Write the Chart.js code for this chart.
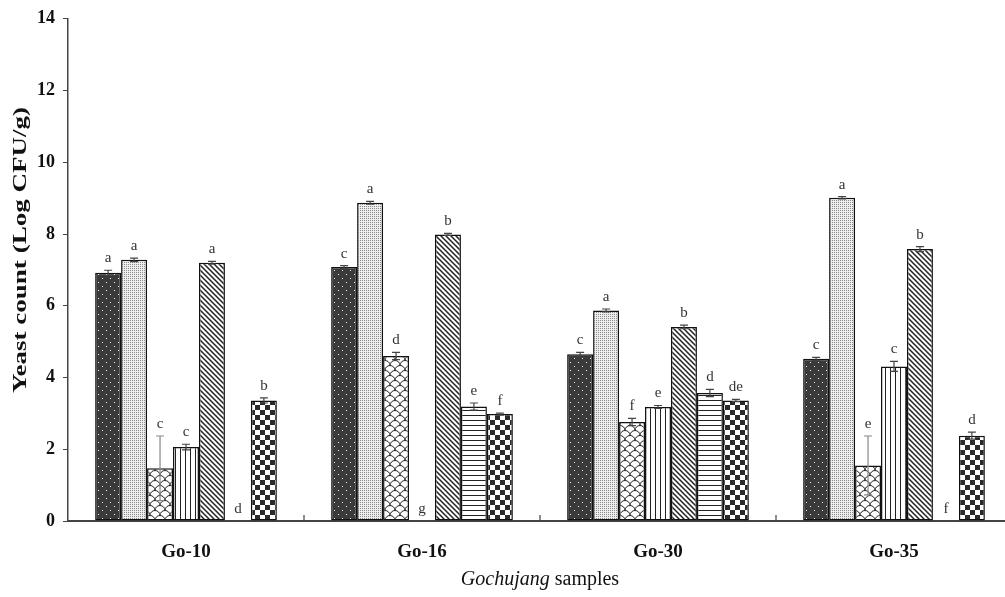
<!DOCTYPE html>
<html>
<head>
<meta charset="utf-8">
<script src="https://cdn.jsdelivr.net/npm/chart.js@4"></script>
<style>
  html, body { margin: 0; padding: 0; background: #fff; overflow: hidden; }
  #wrap { width: 1012px; height: 597px; position: relative; }
</style>
</head>
<body>
<div id="wrap"><canvas id="yeastChart"></canvas></div>
<script>
// sample groups on the x axis
const samples = ['Go-10', 'Go-16', 'Go-30', 'Go-35'];

// yeast counts (Log CFU/g), one array per bar pattern
const s1 = [6.92, 7.08, 4.65, 4.52];
const s2 = [7.28, 8.87, 5.87, 9.01];
const s3 = [1.47, 4.60, 2.76, 1.55];
const s4 = [2.06, 0, 3.18, 4.31];
const s5 = [7.20, 7.99, 5.41, 7.58];
const s6 = [0, 3.19, 3.57, 0];
const s7 = [3.36, 2.98, 3.36, 2.38];

// standard deviations
const e1 = [0.07, 0.04, 0.05, 0.04];
const e2 = [0.05, 0.04, 0.04, 0.03];
const e3 = [0.90, 0.10, 0.10, 0.82];
const e4 = [0.08, 0, 0.04, 0.14];
const e5 = [0.04, 0.03, 0.05, 0.07];
const e6 = [0, 0.10, 0.10, 0];
const e7 = [0.07, 0.03, 0.03, 0.10];

// significance letters
const l1 = ['a', 'c', 'c', 'c'];
const l2 = ['a', 'a', 'a', 'a'];
const l3 = ['c', 'd', 'f', 'e'];
const l4 = ['c', 'g', 'e', 'c'];
const l5 = ['a', 'b', 'b', 'b'];
const l6 = ['d', 'e', 'd', 'f'];
const l7 = ['b', 'f', 'de', 'd'];

const yTicks = [0, 2, 4, 6, 8, 10, 12, 14];

const values = [s1, s2, s3, s4, s5, s6, s7];
const errors = [e1, e2, e3, e4, e5, e6, e7];
const letters = [l1, l2, l3, l4, l5, l6, l7];

function makePattern(w, h, draw) {
  const c = document.createElement('canvas');
  c.width = w; c.height = h;
  const g = c.getContext('2d');
  draw(g, w, h);
  return g.createPattern(c, 'repeat');
}

const patterns = [
  // dark with white dots
  makePattern(8, 8, (g) => {
    g.fillStyle = '#3a3a3a'; g.fillRect(0, 0, 8, 8);
    g.fillStyle = '#f0f0f0';
    g.fillRect(2, 2, 1, 1); g.fillRect(6, 6, 1, 1);
  }),
  // fine stipple
  makePattern(2, 2, (g) => {
    g.fillStyle = '#eeeeee'; g.fillRect(0, 0, 2, 2);
    g.fillStyle = '#8a8a8a'; g.fillRect(0, 0, 1, 1);
  }),
  // fish scales
  makePattern(10, 10, (g) => {
    g.fillStyle = '#fff'; g.fillRect(0, 0, 10, 10);
    g.strokeStyle = '#222'; g.lineWidth = 1;
    g.beginPath(); g.arc(5, 5.5, 5, Math.PI, 2 * Math.PI); g.stroke();
    g.beginPath(); g.arc(0, 10.5, 5, Math.PI * 1.5, 2 * Math.PI); g.stroke();
    g.beginPath(); g.arc(10, 10.5, 5, Math.PI, Math.PI * 1.5); g.stroke();
  }),
  // vertical lines
  makePattern(5, 1, (g) => {
    g.fillStyle = '#fff'; g.fillRect(0, 0, 5, 1);
    g.fillStyle = '#222'; g.fillRect(0, 0, 1, 1);
  }),
  // diagonal lines
  makePattern(5, 5, (g) => {
    g.fillStyle = '#fff'; g.fillRect(0, 0, 5, 5);
    g.strokeStyle = '#222'; g.lineWidth = 1.5;
    g.beginPath();
    g.moveTo(-1, -1); g.lineTo(6, 6);
    g.moveTo(-1, 4); g.lineTo(1, 6);
    g.moveTo(4, -1); g.lineTo(6, 1);
    g.stroke();
  }),
  // horizontal lines
  makePattern(1, 5, (g) => {
    g.fillStyle = '#fff'; g.fillRect(0, 0, 1, 5);
    g.fillStyle = '#222'; g.fillRect(0, 0, 1, 1);
  }),
  // checkerboard
  makePattern(10, 10, (g) => {
    g.fillStyle = '#fff'; g.fillRect(0, 0, 10, 10);
    g.fillStyle = '#2a2a2a';
    g.fillRect(0, 0, 5, 5); g.fillRect(5, 5, 5, 5);
  })
];

const serif = "'Liberation Serif', 'Times New Roman', serif";

const extras = {
  id: 'extras',
  afterDatasetsDraw(chart) {
    const ctx = chart.ctx;
    const y = chart.scales.y;
    const x = chart.scales.x;
    ctx.save();
    // error bars and letters
    values.forEach((series, i) => {
      const meta = chart.getDatasetMeta(i);
      meta.data.forEach((bar, j) => {
        const v = series[j], e = errors[i][j];
        const top = y.getPixelForValue(v + e);
        if (e > 0) {
          const bot = y.getPixelForValue(Math.max(v - e, 0));
          ctx.strokeStyle = e > 0.5 ? '#888' : '#444';
          ctx.lineWidth = 1.2;
          ctx.beginPath();
          ctx.moveTo(bar.x, top); ctx.lineTo(bar.x, bot);
          ctx.moveTo(bar.x - 4, top); ctx.lineTo(bar.x + 4, top);
          ctx.moveTo(bar.x - 4, bot); ctx.lineTo(bar.x + 4, bot);
          ctx.stroke();
        }
        ctx.fillStyle = '#333';
        ctx.font = '15px ' + serif;
        ctx.textAlign = 'center';
        ctx.textBaseline = 'alphabetic';
        ctx.fillText(letters[i][j], bar.x, top - 8);
      });
    });
    // small category boundary ticks on the x axis
    ctx.strokeStyle = '#444';
    ctx.lineWidth = 1.2;
    for (let k = 0; k < samples.length - 1; k++) {
      const bx = (x.getPixelForValue(k) + x.getPixelForValue(k + 1)) / 2;
      ctx.beginPath();
      ctx.moveTo(bx, y.bottom); ctx.lineTo(bx, y.bottom - 6);
      ctx.stroke();
    }
    ctx.restore();
  },
  afterDraw(chart) {
    const ctx = chart.ctx;
    const area = chart.chartArea;
    ctx.save();
    ctx.fillStyle = '#111';
    // y title, stretched along its length like the original figure
    const yTitle = 'Yeast count (Log CFU/g)';
    ctx.font = 'bold 19px ' + serif;
    const w = ctx.measureText(yTitle).width;
    ctx.translate(21, 250);
    ctx.rotate(-Math.PI / 2);
    ctx.scale(286 / w, 1);
    ctx.textAlign = 'center';
    ctx.textBaseline = 'middle';
    ctx.fillText(yTitle, 0, 0);
    ctx.restore();

    // x title: italic Gochujang + samples
    ctx.save();
    ctx.fillStyle = '#111';
    ctx.textBaseline = 'alphabetic';
    const it = 'Gochujang', rest = ' samples';
    ctx.font = 'italic 20px ' + serif;
    const w1 = ctx.measureText(it).width;
    ctx.font = '20px ' + serif;
    const w2 = ctx.measureText(rest).width;
    const cx = (area.left + area.right) / 2;
    const start = cx - (w1 + w2) / 2;
    ctx.textAlign = 'left';
    ctx.font = 'italic 20px ' + serif;
    ctx.fillText(it, start, 585);
    ctx.font = '20px ' + serif;
    ctx.fillText(rest, start + w1, 585);
    ctx.restore();
  }
};

const datasets = values.map((arr, i) => ({
  label: 'Series ' + (i + 1),
  data: arr,
  backgroundColor: patterns[i],
  borderColor: '#111',
  borderWidth: 1.5,
  borderSkipped: false
}));

const chart = new Chart(document.getElementById('yeastChart'), {
  type: 'bar',
  data: { labels: samples, datasets: datasets },
  options: {
    responsive: true,
    maintainAspectRatio: false,
    animation: false,
    devicePixelRatio: 1,
    layout: { padding: { top: 16, right: 0, bottom: 0, left: 0 } },
    plugins: {
      legend: { display: false },
      tooltip: { enabled: false }
    },
    datasets: {
      bar: { categoryPercentage: 0.77, barPercentage: 1.0 }
    },
    scales: {
      x: {
        grid: { display: false, drawTicks: false },
        border: { display: true, color: '#444', width: 2 },
        ticks: {
          color: '#111',
          padding: 20,
          font: { family: serif, size: 19, weight: 'bold' }
        },
        afterFit: (s) => { s.height = 76; }
      },
      y: {
        min: 0,
        max: 14,
        afterBuildTicks: (s) => { s.ticks = yTicks.map(v => ({ value: v })); },
        grid: { drawOnChartArea: false, drawTicks: true, tickLength: 5, color: '#444' },
        border: { display: true, color: '#444', width: 1.5 },
        ticks: {
          color: '#111',
          padding: 8,
          font: { family: serif, size: 18, weight: 'bold' }
        },
        afterFit: (s) => { s.width = 68; }
      }
    }
  },
  plugins: [extras]
});
</script>
</body>
</html>
